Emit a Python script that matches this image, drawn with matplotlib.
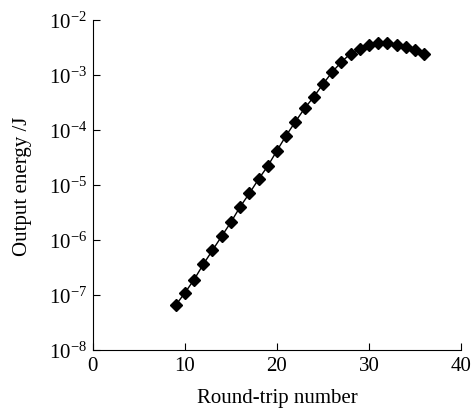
import matplotlib
matplotlib.use("Agg")
import matplotlib.pyplot as plt
from matplotlib.ticker import FixedLocator, FuncFormatter, NullLocator
import math

plt.rcParams['font.family'] = 'Liberation Serif'
plt.rcParams['mathtext.fontset'] = 'custom'
plt.rcParams['mathtext.rm'] = 'Liberation Serif'
plt.rcParams['mathtext.it'] = 'Liberation Serif:italic'

# round-trip number vs output energy (J)
round_trip = [9, 10, 11, 12, 13, 14, 15, 16, 17, 18, 19, 20, 21, 22,
              23, 24, 25, 26, 27, 28, 29, 30, 31, 32, 33, 34, 35, 36]
energy = [6.5e-8, 1.09e-7, 1.9e-7, 3.6e-7, 6.5e-7, 1.17e-6, 2.1e-6,
          4.0e-6, 7.0e-6, 1.27e-5, 2.2e-5, 4.2e-5, 7.9e-5, 1.41e-4,
          2.46e-4, 4.0e-4, 6.8e-4, 1.13e-3, 1.72e-3, 2.44e-3, 3.0e-3,
          3.46e-3, 3.77e-3, 3.77e-3, 3.46e-3, 3.2e-3, 2.8e-3, 2.44e-3]

x_ticks = [0, 10, 20, 30, 40]
y_exps = [-8, -7, -6, -5, -4, -3, -2]

fig = plt.figure(figsize=(4.71, 4.10), dpi=100)
ax = fig.add_axes([0.197, 0.144, 0.782, 0.805])

ax.plot(round_trip, energy, color='black', lw=1.0, marker='D',
        markersize=6.2, markerfacecolor='black', markeredgecolor='black')

ax.set_yscale('log')
ax.set_xlim(0, 40)
ax.set_ylim(1e-8, 1e-2)
ax.xaxis.set_major_locator(FixedLocator(x_ticks))
ax.yaxis.set_major_locator(FixedLocator([10.0 ** e for e in y_exps]))
ax.yaxis.set_minor_locator(NullLocator())
ax.yaxis.set_major_formatter(FuncFormatter(
    lambda v, p: r'$\mathrm{10^{-%d}}$' % round(-math.log10(v))))

for s in ['top', 'right']:
    ax.spines[s].set_visible(False)
ax.tick_params(direction='in', length=5, labelsize=15, pad=4)

ax.set_xlabel('Round-trip number', fontsize=15, labelpad=10)
ax.set_ylabel('Output energy /J', fontsize=15, labelpad=12)

fig.savefig('out.png', dpi=100)
